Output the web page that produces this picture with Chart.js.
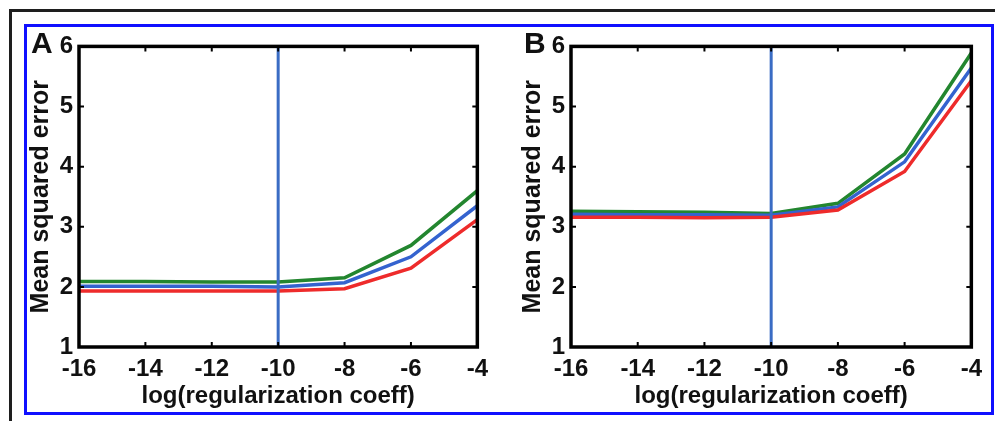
<!DOCTYPE html>
<html>
<head>
<meta charset="utf-8">
<script src="https://cdn.jsdelivr.net/npm/chart.js@4.4.1/dist/chart.umd.min.js"></script>
<style>
  body { margin: 0; background: #fff; width: 995px; height: 421px; overflow: hidden; position: relative; font-family: "Liberation Sans", Arial, sans-serif; }
  .frame { position: absolute; left: 9px; top: 9px; width: 1000px; height: 420px; border-left: 3px solid #1e1e1e; border-top: 3px solid #1e1e1e; }
  .blue { position: absolute; left: 24px; top: 24px; width: 964px; height: 385px; border: 3px solid #1010ff; }
  .panel { position: absolute; top: 26px; height: 385px; }
  .letter { position: absolute; font-weight: bold; font-size: 30px; line-height: 1; color: #111; }
</style>
</head>
<body>
<div class="frame"></div>
<div class="blue"></div>
<div class="panel" style="left:26px;width:470px"><canvas id="panelA"></canvas></div>
<div class="panel" style="left:518px;width:472px"><canvas id="panelB"></canvas></div>
<div class="letter" style="left:31px;top:28px">A</div>
<div class="letter" style="left:524px;top:28px">B</div>
<script>
// x positions (log10 of the regularization coefficient)
var logCoeff = [-16, -14, -12, -10, -8, -6, -4];
var xTicks = [-16, -14, -12, -10, -8, -6, -4];
var yTicks = [1, 2, 3, 4, 5, 6];
var chosenCoeff = -10;

// panel A
var greenA = [2.09, 2.09, 2.08, 2.08, 2.15, 2.69, 3.60];
var blueA  = [2.01, 2.01, 2.01, 2.00, 2.07, 2.50, 3.35];
var redA   = [1.93, 1.93, 1.93, 1.93, 1.97, 2.31, 3.12];

// panel B
var greenB = [3.26, 3.25, 3.24, 3.22, 3.39, 4.21, 5.89];
var blueB  = [3.21, 3.20, 3.20, 3.19, 3.33, 4.08, 5.64];
var redB   = [3.16, 3.16, 3.15, 3.16, 3.28, 3.92, 5.43];

var GREEN = "#23862f", BLUE = "#3463cf", RED = "#ee2b2b", VLINE = "#3a6cc4";
var FONT = "Liberation Sans";

function pts(ys) {
    return logCoeff.map(function (x, i) { return { x: x, y: ys[i] }; });
}

// black box round the plot with small inward ticks (MATLAB style)
var boxPlugin = {
    id: "box",
    afterDraw: function (chart) {
        var ctx = chart.ctx, a = chart.chartArea;
        var xs = chart.scales.x, ys = chart.scales.y;
        ctx.save();
        ctx.strokeStyle = "#000";
        ctx.lineWidth = 2;
        xTicks.forEach(function (v) {
            var px = xs.getPixelForValue(v);
            ctx.beginPath();
            ctx.moveTo(px, a.bottom); ctx.lineTo(px, a.bottom - 5);
            ctx.moveTo(px, a.top); ctx.lineTo(px, a.top + 5);
            ctx.stroke();
        });
        yTicks.forEach(function (v) {
            var py = ys.getPixelForValue(v);
            ctx.beginPath();
            ctx.moveTo(a.left, py); ctx.lineTo(a.left + 5, py);
            ctx.moveTo(a.right, py); ctx.lineTo(a.right - 5, py);
            ctx.stroke();
        });
        ctx.lineWidth = 3.5;
        ctx.strokeRect(a.left, a.top, a.right - a.left, a.bottom - a.top);
        ctx.restore();
    }
};

function makePanel(id, green, blue, red) {
    var ctx = document.getElementById(id).getContext("2d");
    return new Chart(ctx, {
        type: "line",
        data: {
            datasets: [
                { data: [{ x: chosenCoeff, y: 1 }, { x: chosenCoeff, y: 6 }], borderColor: VLINE, borderWidth: 3 },
                { data: pts(red), borderColor: RED, borderWidth: 3.5 },
                { data: pts(blue), borderColor: BLUE, borderWidth: 3.5 },
                { data: pts(green), borderColor: GREEN, borderWidth: 3.5 }
            ]
        },
        options: {
            responsive: true,
            maintainAspectRatio: false,
            animation: false,
            layout: { padding: { top: 14, right: 3, left: 0, bottom: 0 } },
            elements: { point: { radius: 0 }, line: { tension: 0 } },
            plugins: { legend: { display: false }, tooltip: { enabled: false } },
            scales: {
                x: {
                    type: "linear",
                    min: -16, max: -4,
                    afterFit: function (s) { s.height = 64; },
                    afterBuildTicks: function (s) { s.ticks = xTicks.map(function (v) { return { value: v }; }); },
                    grid: { display: false, drawTicks: false },
                    border: { display: false },
                    ticks: { color: "#111", padding: 8, maxRotation: 0, font: { family: FONT, weight: "bold", size: 24 } },
                    title: { display: true, text: "log(regularization coeff)", color: "#111", padding: { top: 0, bottom: 0 },
                             font: { family: FONT, weight: "bold", size: 24 } }
                },
                y: {
                    min: 1, max: 6,
                    afterFit: function (s) { s.width = 53; },
                    afterBuildTicks: function (s) { s.ticks = yTicks.map(function (v) { return { value: v }; }); },
                    grid: { display: false, drawTicks: false },
                    border: { display: false },
                    ticks: { color: "#111", padding: 6, font: { family: FONT, weight: "bold", size: 24 } },
                    title: { display: true, text: "Mean squared error", color: "#111", padding: { top: 0, bottom: 0 },
                             font: { family: FONT, weight: "bold", size: 25 } }
                }
            }
        },
        plugins: [boxPlugin]
    });
}

makePanel("panelA", greenA, blueA, redA);
makePanel("panelB", greenB, blueB, redB);
</script>
</body>
</html>
